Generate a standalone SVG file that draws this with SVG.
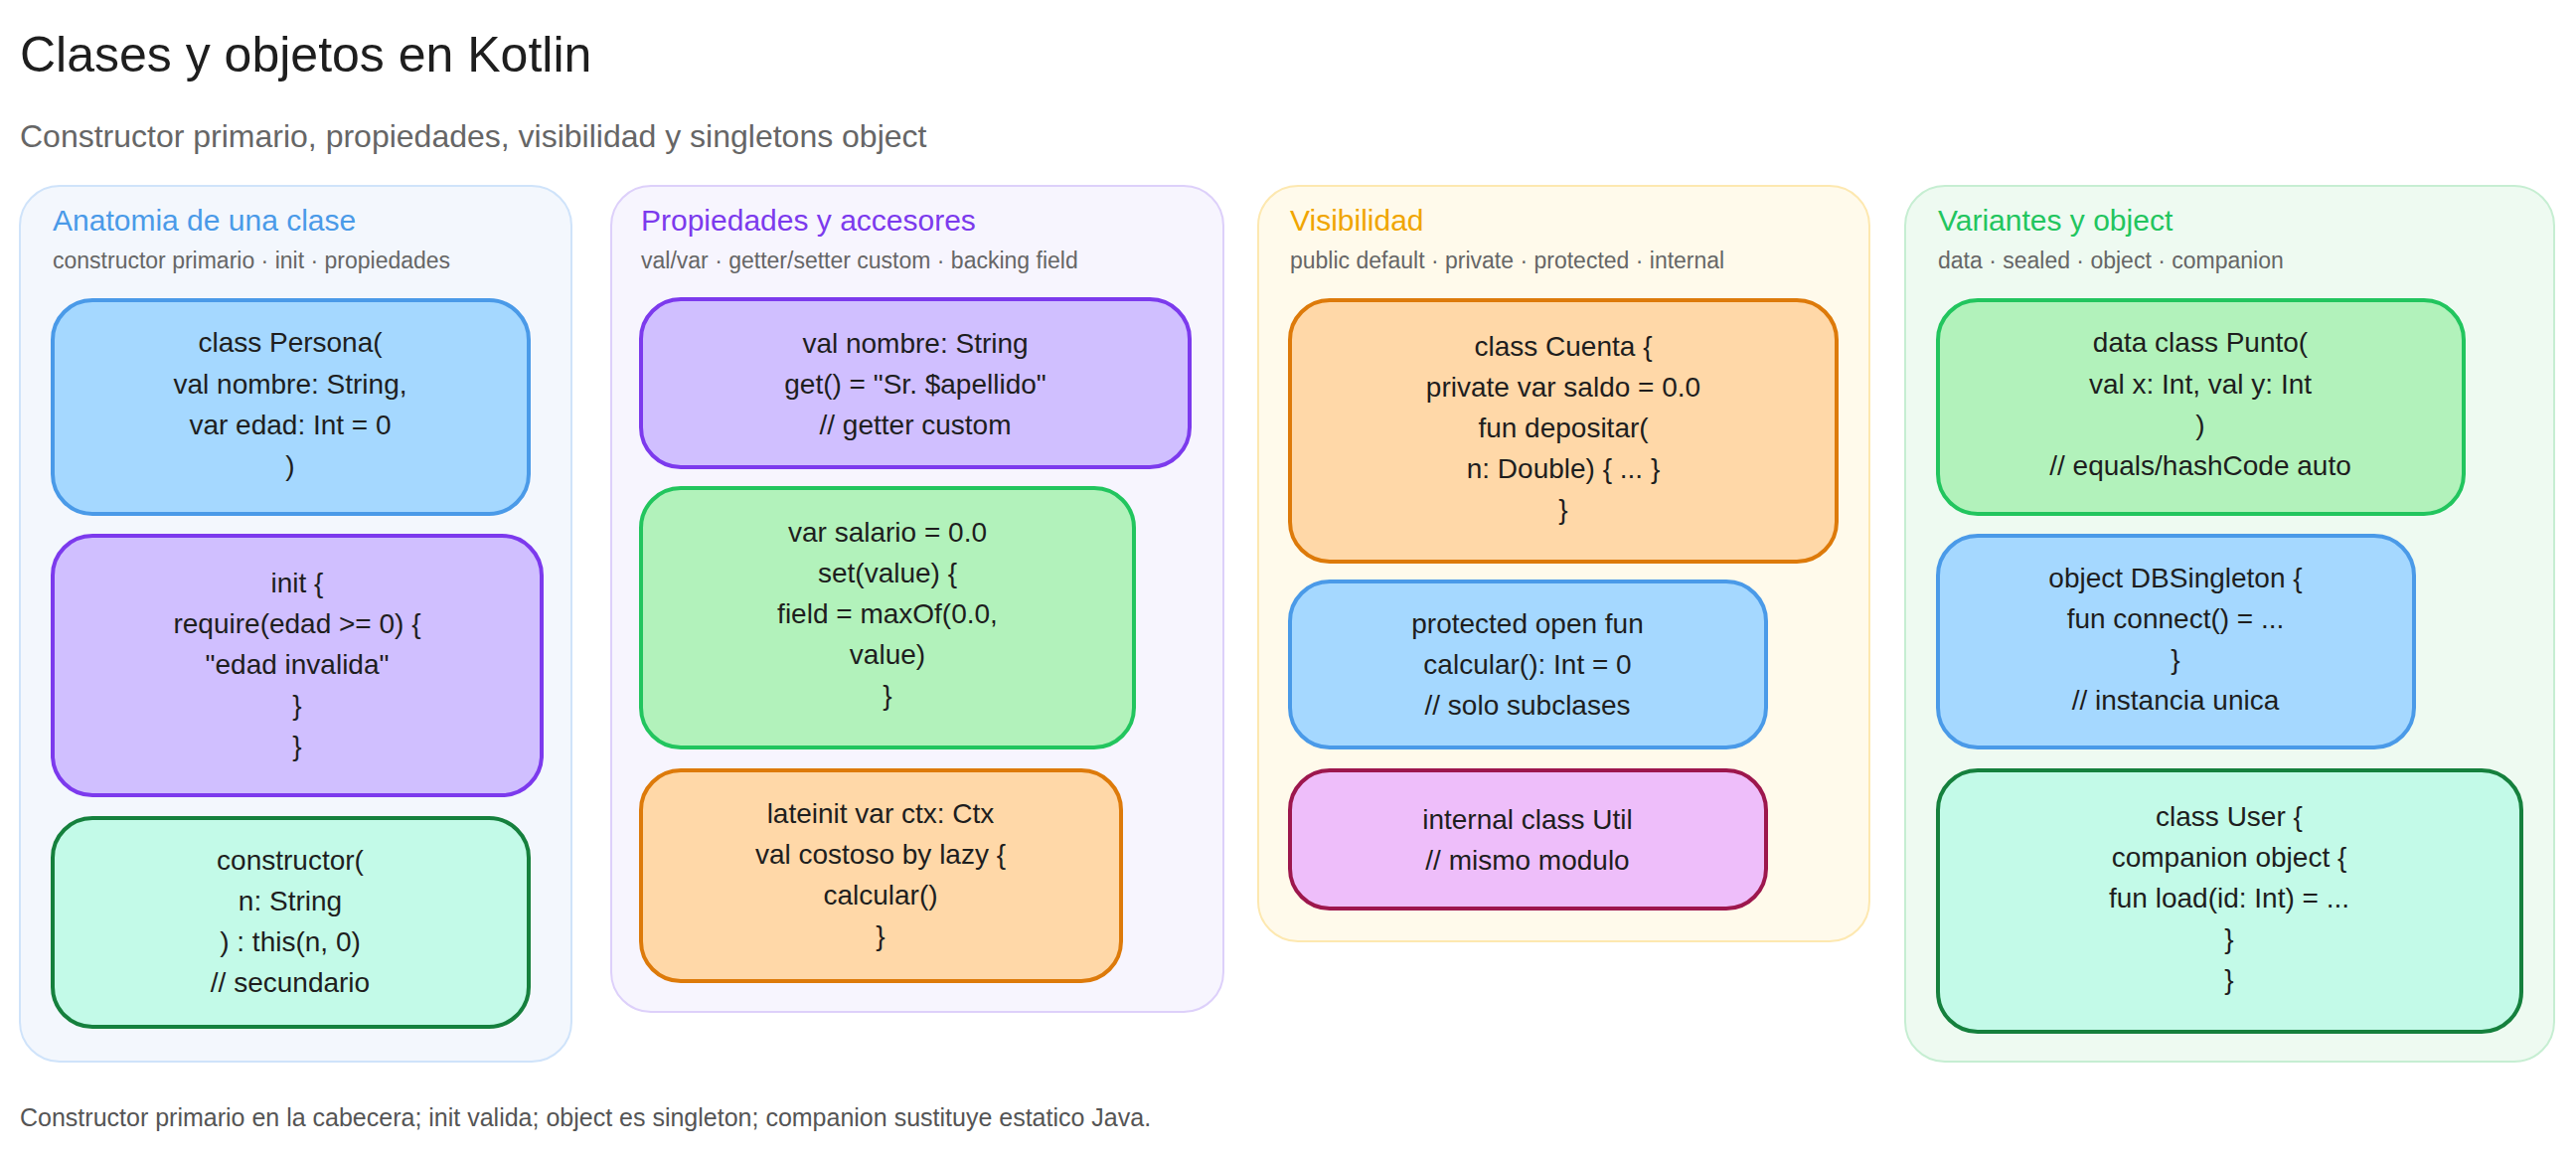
<svg xmlns="http://www.w3.org/2000/svg" width="2592" height="1167" viewBox="0 0 2592 1167">
<style>
text{font-family:"Liberation Sans",Arial,sans-serif}
.t{font-size:50px;fill:#1e1e1e}
.st{font-size:32px;fill:#666}
.pt{font-size:30px}
.ps{font-size:23px;fill:#666}
.c{font-size:28px;fill:#1e1e1e;text-anchor:middle}
.f{font-size:25px;fill:#555}
.n{stroke-width:4}
.p{stroke-width:2}
.blue{fill:#a5d8ff;stroke:#4a9ae8}
.purple{fill:#d0bfff;stroke:#7c3aed}
.green{fill:#b2f2bb;stroke:#22c55e}
.orange{fill:#ffd8a8;stroke:#dd7a0a}
.teal{fill:#c3fae8;stroke:#15803d}
.pink{fill:#eebefa;stroke:#9d174d}
</style>
<rect width="2592" height="1167" fill="#ffffff"/>
<text class="t" x="20" y="72">Clases y objetos en Kotlin</text>
<text class="st" x="20" y="148">Constructor primario, propiedades, visibilidad y singletons object</text>

<g id="panel1">
<rect class="p" x="20" y="187" width="555" height="881" rx="40" fill="#f3f7fd" stroke="#cfe3fa"/>
<text class="pt" x="53" y="232" fill="#4a9ae8">Anatomia de una clase</text>
<text class="ps" x="53" y="270">constructor primario · init · propiedades</text>
</g>
<g id="panel2">
<rect class="p" x="615" y="187" width="616" height="831" rx="40" fill="#f7f5fe" stroke="#ddd0fa"/>
<text class="pt" x="645" y="232" fill="#7c3aed">Propiedades y accesores</text>
<text class="ps" x="645" y="270">val/var · getter/setter custom · backing field</text>
</g>
<g id="panel3">
<rect class="p" x="1266" y="187" width="615" height="760" rx="40" fill="#fffaeb" stroke="#fde8b0"/>
<text class="pt" x="1298" y="232" fill="#f0a500">Visibilidad</text>
<text class="ps" x="1298" y="270">public default · private · protected · internal</text>
</g>
<g id="panel4">
<rect class="p" x="1917" y="187" width="653" height="881" rx="40" fill="#eefaf1" stroke="#c6eed2"/>
<text class="pt" x="1950" y="232" fill="#22c55e">Variantes y object</text>
<text class="ps" x="1950" y="270">data · sealed · object · companion</text>
</g>

<g id="persona">
<rect class="n blue" x="53" y="302" width="479" height="215" rx="40"/>
<text class="c" x="292" y="354">class Persona(</text>
<text class="c" x="292" y="396">val nombre: String,</text>
<text class="c" x="292" y="437">var edad: Int = 0</text>
<text class="c" x="292" y="478">)</text>
</g>
<g id="init">
<rect class="n purple" x="53" y="539" width="492" height="261" rx="40"/>
<text class="c" x="299" y="596">init {</text>
<text class="c" x="299" y="637">require(edad &gt;= 0) {</text>
<text class="c" x="299" y="678">"edad invalida"</text>
<text class="c" x="299" y="719">}</text>
<text class="c" x="299" y="760">}</text>
</g>
<g id="constructor">
<rect class="n teal" x="53" y="823" width="479" height="210" rx="40"/>
<text class="c" x="292" y="875">constructor(</text>
<text class="c" x="292" y="916">n: String</text>
<text class="c" x="292" y="957">) : this(n, 0)</text>
<text class="c" x="292" y="998">// secundario</text>
</g>

<g id="getter">
<rect class="n purple" x="645" y="301" width="552" height="169" rx="40"/>
<text class="c" x="921" y="355">val nombre: String</text>
<text class="c" x="921" y="396">get() = "Sr. $apellido"</text>
<text class="c" x="921" y="437">// getter custom</text>
</g>
<g id="setter">
<rect class="n green" x="645" y="491" width="496" height="261" rx="40"/>
<text class="c" x="893" y="545">var salario = 0.0</text>
<text class="c" x="893" y="586">set(value) {</text>
<text class="c" x="893" y="627">field = maxOf(0.0,</text>
<text class="c" x="893" y="668">value)</text>
<text class="c" x="893" y="709">}</text>
</g>
<g id="lateinit">
<rect class="n orange" x="645" y="775" width="483" height="212" rx="40"/>
<text class="c" x="886" y="828">lateinit var ctx: Ctx</text>
<text class="c" x="886" y="869">val costoso by lazy {</text>
<text class="c" x="886" y="910">calcular()</text>
<text class="c" x="886" y="951">}</text>
</g>

<g id="cuenta">
<rect class="n orange" x="1298" y="302" width="550" height="263" rx="40"/>
<text class="c" x="1573" y="358">class Cuenta {</text>
<text class="c" x="1573" y="399">private var saldo = 0.0</text>
<text class="c" x="1573" y="440">fun depositar(</text>
<text class="c" x="1573" y="481">n: Double) { ... }</text>
<text class="c" x="1573" y="522">}</text>
</g>
<g id="protected">
<rect class="n blue" x="1298" y="585" width="479" height="167" rx="40"/>
<text class="c" x="1537" y="637">protected open fun</text>
<text class="c" x="1537" y="678">calcular(): Int = 0</text>
<text class="c" x="1537" y="719">// solo subclases</text>
</g>
<g id="internal">
<rect class="n pink" x="1298" y="775" width="479" height="139" rx="40"/>
<text class="c" x="1537" y="834">internal class Util</text>
<text class="c" x="1537" y="875">// mismo modulo</text>
</g>

<g id="punto">
<rect class="n green" x="1950" y="302" width="529" height="215" rx="40"/>
<text class="c" x="2214" y="354">data class Punto(</text>
<text class="c" x="2214" y="396">val x: Int, val y: Int</text>
<text class="c" x="2214" y="437">)</text>
<text class="c" x="2214" y="478">// equals/hashCode auto</text>
</g>
<g id="singleton">
<rect class="n blue" x="1950" y="539" width="479" height="213" rx="40"/>
<text class="c" x="2189" y="591">object DBSingleton {</text>
<text class="c" x="2189" y="632">fun connect() = ...</text>
<text class="c" x="2189" y="673">}</text>
<text class="c" x="2189" y="714">// instancia unica</text>
</g>
<g id="companion">
<rect class="n teal" x="1950" y="775" width="587" height="263" rx="40"/>
<text class="c" x="2243" y="831">class User {</text>
<text class="c" x="2243" y="872">companion object {</text>
<text class="c" x="2243" y="913">fun load(id: Int) = ...</text>
<text class="c" x="2243" y="954">}</text>
<text class="c" x="2243" y="995">}</text>
</g>

<g id="connectors"></g>

<text class="f" x="20" y="1133">Constructor primario en la cabecera; init valida; object es singleton; companion sustituye estatico Java.</text>
</svg>
